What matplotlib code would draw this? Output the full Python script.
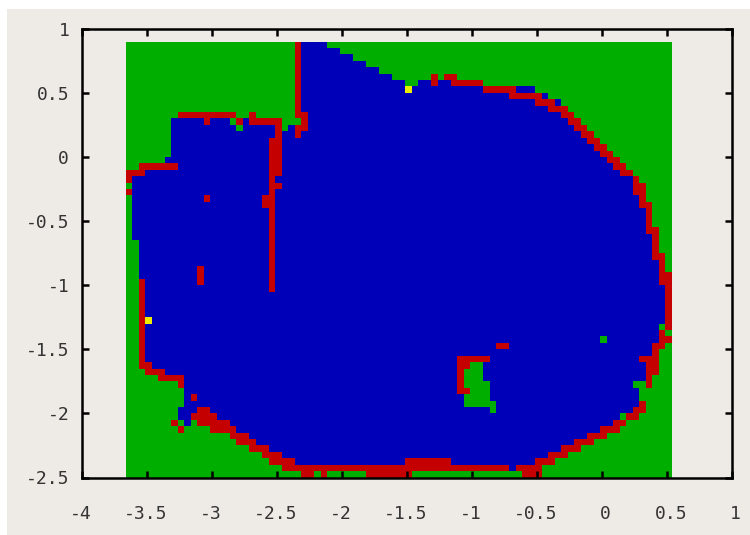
import numpy as np
import matplotlib
matplotlib.use('Agg')
import matplotlib.pyplot as plt
from matplotlib.colors import ListedColormap
from matplotlib.patches import Rectangle
from matplotlib.transforms import ScaledTranslation

# Constants
W, H = 750, 535
BG = '#eeebe6'
CODES = {'g': 0, 'b': 1, 'r': 2, 'y': 3}
CMAP = ListedColormap(['#00ae00', '#0000b8', '#c40000', '#ecec00'])

x_ticks = [-4, -3.5, -3, -2.5, -2, -1.5, -1, -0.5, 0, 0.5, 1]
x_labels = ['-4', '-3.5', '-3', '-2.5', '-2', '-1.5', '-1', '-0.5', '0', '0.5', '1']
y_ticks = [1, 0.5, 0, -0.5, -1, -1.5, -2, -2.5]
y_labels = ['1', '0.5', '0', '-0.5', '-1', '-1.5', '-2', '-2.5']

# grid origin and cell size, in data units
x_start = -3.66
y_start = 0.9
cell = 0.05
n_cols = 84

# cell classes row by row from the top, run length coded, rest of a row is green
rows = [
    'g26 r1 b4',
    'g26 r1 b6',
    'g26 r1 b8',
    'g26 r1 b10',
    'g26 r1 b12',
    'g26 r1 b14 g6 r1 g1 r2',
    'g26 r1 b16 g2 b2 r1 b2 r5',
    'g26 r1 b16 y1 b11 r5 b3',
    'g26 r1 b32 r5 b1',
    'g26 r1 b36 r3 b1',
    'g26 r1 b38 r3',
    'g8 r9 g2 r1 g6 r2 b39 r2',
    'g7 b5 r1 b3 g1 r1 b1 r5 g3 r1 b40 r2',
    'g7 b10 g1 b5 r1 g1 b1 r2 b41 r2',
    'g7 b16 r1 b2 r1 b43 r2',
    'g7 b15 r2 b47 r2',
    'g7 b15 r2 b48 r2',
    'g7 b15 r2 b49 r2',
    'g6 b16 r2 b50 r2',
    'g2 r6 b14 r2 b51 r2',
    'r3 b19 r2 b52 r2',
    'r1 b21 r1 b55 r1',
    'g1 b21 r2 b54 r2',
    'r1 b21 r1 b55 r2',
    'g1 b11 r1 b8 r2 b56 r1',
    'g1 b20 r2 b56 r2',
    'g1 b21 r1 b57 r1',
    'g1 b21 r1 b57 r1',
    'g1 b21 r1 b57 r1',
    'g1 b21 r1 b57 r2',
    'g1 b21 r1 b58 r1',
    'g2 b20 r1 b58 r1',
    'g2 b20 r1 b58 r1',
    'g2 b20 r1 b58 r2',
    'g2 b20 r1 b59 r1',
    'g2 b9 r1 b10 r1 b59 r1',
    'g2 b9 r1 b10 r1 b59 r2',
    'g2 r1 b8 r1 b10 r1 b59 r2',
    'g2 r1 b19 r1 b60 r1',
    'g2 r1 b80 r1',
    'g2 r1 b80 r1',
    'g2 r1 b80 r1',
    'g2 r1 b80 r1',
    'g2 r1 y1 b79 r1',
    'g2 r1 b79 g1 r1',
    'g2 r1 b79 r1 g1',
    'g2 r1 b70 g1 b8 r2',
    'g2 r1 b54 r2 b22 r2',
    'g2 r1 b78 r1',
    'g2 r1 b48 r5 b23 r3',
    'g2 r2 b47 r2 g2 b25 r2',
    'g3 r3 b45 r1 g3 b25 r2',
    'g5 r4 b42 r1 g3 b25 r1',
    'g8 r1 b42 r1 g4 b22 g2 r1',
    'g9 b42 r2 g3 b23',
    'g9 b1 r1 b41 g4 b23',
    'g9 b43 g5 b22 r1',
    'g8 b3 r2 b43 g1 b21 r2',
    'g8 b2 r4 b62 g1 r2',
    'g7 r1 g1 b1 g1 r5 b59 r2',
    'g8 r1 g4 r4 b56 r3',
    'g16 r3 b52 r3',
    'g17 r3 b49 r3',
    'g19 r3 b45 r3',
    'g21 r3 b41 r3',
    'g22 r4 b17 r7 b13 r3',
    'g24 r35 b1 r4',
    'g27 r2 g1 r1 g6 r7 g17 r3',
]


def decode_row(txt):
    """Expand a run length coded row, fill up with green"""
    out = []
    for run in txt.split():
        out += [CODES[run[0]]] * int(run[1:])
    return out + [0] * (n_cols - len(out))


grid = np.array([decode_row(r) for r in rows])
x_edges = x_start + cell * np.arange(n_cols + 1)
y_edges = y_start - cell * np.arange(len(rows) + 1)

fig = plt.figure(figsize=(W / 100, H / 100), dpi=100, facecolor='white')
# beige page, the picture has a white strip on the left and top
fig.add_artist(Rectangle((7 / W, 0), 1, 1 - 9 / H, transform=fig.transFigure,
                         facecolor=BG, edgecolor='none', zorder=-1))

ax = fig.add_axes([81.7 / W, 1 - 477.5 / H, 650 / W, 448.8 / H], facecolor=BG)
ax.pcolormesh(x_edges, y_edges, grid, cmap=CMAP, vmin=-0.5, vmax=3.5,
              shading='flat', antialiased=False, linewidth=0, zorder=1)

ax.set_xlim(-4, 1)
ax.set_ylim(-2.5, 1)
ax.set_xticks(x_ticks)
ax.set_xticklabels(x_labels)
ax.set_yticks(y_ticks)
ax.set_yticklabels(y_labels)
ax.set_axisbelow(False)
ax.tick_params(direction='in', length=5, width=1.8, top=True, right=True,
               labelsize=13, labelcolor='#333333')
ax.tick_params(axis='x', pad=20)
ax.tick_params(axis='y', pad=9)
for lab in ax.get_xticklabels() + ax.get_yticklabels():
    lab.set_family('DejaVu Sans Mono')
# unsigned x labels sit a bit right of their tick in the original
for lab in ax.get_xticklabels():
    dx = 4 if not lab.get_text().startswith('-') else -1
    lab.set_transform(lab.get_transform() + ScaledTranslation(dx / 100, 0, fig.dpi_scale_trans))
for sp in ax.spines.values():
    sp.set_linewidth(1.8)
    sp.set_zorder(5)

plt.savefig('out.png', dpi=100, facecolor=fig.get_facecolor())
plt.close('all')
